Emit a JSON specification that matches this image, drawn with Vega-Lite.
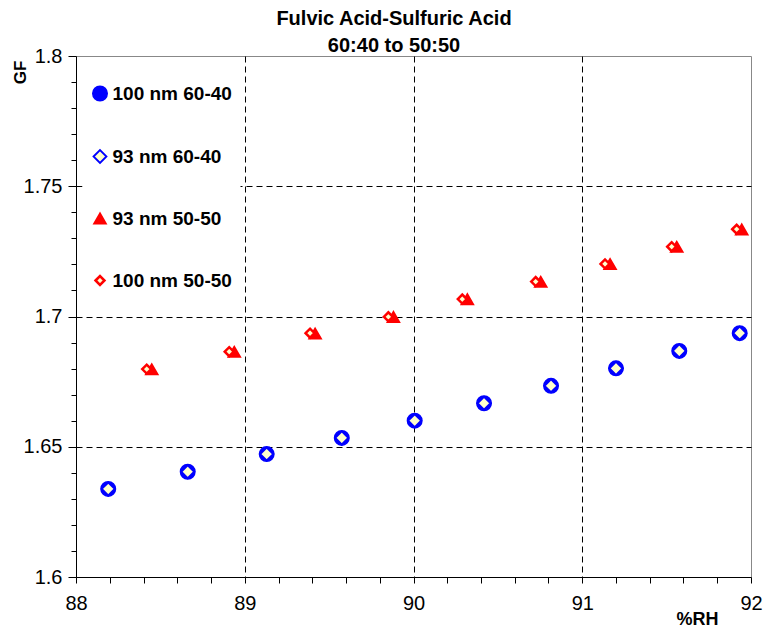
{
  "$schema": "https://vega.github.io/schema/vega-lite/v6.json",
  "width": 675,
  "height": 521,
  "autosize": {"type": "none"},
  "padding": {"left": 76, "top": 56, "right": 16, "bottom": 52},
  "background": "white",
  "config": {
    "font": "Liberation Sans",
    "view": {"stroke": "#888888", "strokeWidth": 1}
  },
  "title": {
    "text": ["Fulvic Acid-Sulfuric Acid", "60:40 to 50:50"],
    "font": "Liberation Sans",
    "fontSize": 20,
    "fontWeight": "bold",
    "color": "black",
    "lineHeight": 27,
    "anchor": "middle",
    "baseline": "bottom",
    "offset": -30,
    "dx": -19.5
  },
  "data": {
    "values": [
      {"rh": 88.191, "gf": 1.6338, "series": "100 nm 60-40"},
      {"rh": 88.662, "gf": 1.6404, "series": "100 nm 60-40"},
      {"rh": 89.130, "gf": 1.6472, "series": "100 nm 60-40"},
      {"rh": 89.575, "gf": 1.6534, "series": "100 nm 60-40"},
      {"rh": 90.007, "gf": 1.6600, "series": "100 nm 60-40"},
      {"rh": 90.418, "gf": 1.6667, "series": "100 nm 60-40"},
      {"rh": 90.815, "gf": 1.6734, "series": "100 nm 60-40"},
      {"rh": 91.200, "gf": 1.6801, "series": "100 nm 60-40"},
      {"rh": 91.575, "gf": 1.6868, "series": "100 nm 60-40"},
      {"rh": 91.933, "gf": 1.6936, "series": "100 nm 60-40"},
      {"rh": 88.191, "gf": 1.6338, "series": "93 nm 60-40"},
      {"rh": 88.662, "gf": 1.6404, "series": "93 nm 60-40"},
      {"rh": 89.130, "gf": 1.6472, "series": "93 nm 60-40"},
      {"rh": 89.575, "gf": 1.6534, "series": "93 nm 60-40"},
      {"rh": 90.007, "gf": 1.6600, "series": "93 nm 60-40"},
      {"rh": 90.418, "gf": 1.6667, "series": "93 nm 60-40"},
      {"rh": 90.815, "gf": 1.6734, "series": "93 nm 60-40"},
      {"rh": 91.200, "gf": 1.6801, "series": "93 nm 60-40"},
      {"rh": 91.575, "gf": 1.6868, "series": "93 nm 60-40"},
      {"rh": 91.933, "gf": 1.6936, "series": "93 nm 60-40"},
      {"rh": 88.449, "gf": 1.6797, "series": "93 nm 50-50"},
      {"rh": 88.938, "gf": 1.6864, "series": "93 nm 50-50"},
      {"rh": 89.417, "gf": 1.6934, "series": "93 nm 50-50"},
      {"rh": 89.881, "gf": 1.6998, "series": "93 nm 50-50"},
      {"rh": 90.319, "gf": 1.7066, "series": "93 nm 50-50"},
      {"rh": 90.754, "gf": 1.7133, "series": "93 nm 50-50"},
      {"rh": 91.165, "gf": 1.7201, "series": "93 nm 50-50"},
      {"rh": 91.560, "gf": 1.7267, "series": "93 nm 50-50"},
      {"rh": 91.945, "gf": 1.7334, "series": "93 nm 50-50"},
      {"rh": 88.419, "gf": 1.6798, "series": "100 nm 50-50"},
      {"rh": 88.908, "gf": 1.6865, "series": "100 nm 50-50"},
      {"rh": 89.387, "gf": 1.6936, "series": "100 nm 50-50"},
      {"rh": 89.851, "gf": 1.6999, "series": "100 nm 50-50"},
      {"rh": 90.289, "gf": 1.7067, "series": "100 nm 50-50"},
      {"rh": 90.724, "gf": 1.7134, "series": "100 nm 50-50"},
      {"rh": 91.135, "gf": 1.7202, "series": "100 nm 50-50"},
      {"rh": 91.530, "gf": 1.7268, "series": "100 nm 50-50"},
      {"rh": 91.915, "gf": 1.7335, "series": "100 nm 50-50"}
    ]
  },
  "mark": {"type": "point", "filled": true, "opacity": 1},
  "encoding": {
    "x": {
      "field": "rh",
      "type": "quantitative",
      "scale": {"domain": [88, 92], "nice": false, "zero": false},
      "axis": {
        "title": "%RH",
        "titleFont": "Liberation Sans",
        "titleFontSize": 18,
        "titleFontWeight": "bold",
        "titleColor": "black",
        "titleAlign": "center",
        "titleBaseline": "middle",
        "titleX": 621,
        "titleY": 42,
        "values": [88, 88.2, 88.4, 88.6, 88.8, 89, 89.2, 89.4, 89.6, 89.8, 90, 90.2, 90.4, 90.6, 90.8, 91, 91.2, 91.4, 91.6, 91.8, 92],
        "labelExpr": "datum.value == round(datum.value) ? '' + datum.value : ''",
        "labelFont": "Liberation Sans",
        "labelFontSize": 20,
        "labelColor": "black",
        "labelPadding": 10,
        "labelOverlap": false,
        "labelFlush": false,
        "labelBound": false,
        "domainColor": "black",
        "domainWidth": 1,
        "tickColor": "black",
        "tickSize": 6,
        "grid": true,
        "gridColor": "black",
        "gridDash": [6, 4],
        "gridWidth": 1,
        "gridOpacity": {"condition": {"test": "datum.value == round(datum.value) && datum.value > 88 && datum.value < 92", "value": 1}, "value": 0}
      }
    },
    "y": {
      "field": "gf",
      "type": "quantitative",
      "scale": {"domain": [1.6, 1.8], "nice": false, "zero": false},
      "axis": {
        "title": "GF",
        "titleFont": "Liberation Sans",
        "titleFontSize": 17,
        "titleFontWeight": "bold",
        "titleColor": "black",
        "titleAngle": 270,
        "titleAlign": "center",
        "titleBaseline": "middle",
        "titleX": -55.5,
        "titleY": 16,
        "values": [1.6, 1.61, 1.62, 1.63, 1.64, 1.65, 1.66, 1.67, 1.68, 1.69, 1.7, 1.71, 1.72, 1.73, 1.74, 1.75, 1.76, 1.77, 1.78, 1.79, 1.8],
        "labelExpr": "round(datum.value * 100) % 5 == 0 ? '' + datum.value : ''",
        "labelFont": "Liberation Sans",
        "labelFontSize": 20,
        "labelColor": "black",
        "labelPadding": 6,
        "labelOverlap": false,
        "labelFlush": false,
        "labelBound": false,
        "domainColor": "black",
        "domainWidth": 1,
        "tickColor": "black",
        "tickSize": {"condition": {"test": "round(datum.value * 100) % 5 == 0", "value": 8}, "value": 5},
        "grid": true,
        "gridColor": "black",
        "gridDash": [6, 4],
        "gridWidth": 1,
        "gridOpacity": {"condition": {"test": "round(datum.value * 100) % 5 == 0 && datum.value > 1.601 && datum.value < 1.799", "value": 1}, "value": 0}
      }
    },
    "shape": {
      "field": "series",
      "type": "nominal",
      "scale": {"domain": ["100 nm 60-40", "93 nm 60-40", "93 nm 50-50", "100 nm 50-50"], "range": ["circle", "diamond", "triangle-up", "diamond"]},
      "legend": {
        "title": null,
        "orient": "none",
        "legendX": 6.5,
        "legendY": 20,
        "padding": 8,
        "fillColor": "white",
        "strokeColor": null,
        "labelFont": "Liberation Sans",
        "labelFontSize": 19,
        "labelFontWeight": "bold",
        "labelColor": "black",
        "labelOffset": 3,
        "labelLimit": 300,
        "rowPadding": 42,
        "symbolOpacity": 1
      }
    },
    "fill": {
      "field": "series",
      "type": "nominal",
      "scale": {"domain": ["100 nm 60-40", "93 nm 60-40", "93 nm 50-50", "100 nm 50-50"], "range": ["#0000FF", "#FFFFCC", "#FF0000", "#FFFFCC"]},
      "legend": {"title": null}
    },
    "stroke": {
      "field": "series",
      "type": "nominal",
      "scale": {"domain": ["100 nm 60-40", "93 nm 60-40", "93 nm 50-50", "100 nm 50-50"], "range": ["#0000FF", "#0000FF", "#FF0000", "#FF0000"]},
      "legend": {"title": null}
    },
    "strokeWidth": {
      "field": "series",
      "type": "nominal",
      "scale": {"domain": ["100 nm 60-40", "93 nm 60-40", "93 nm 50-50", "100 nm 50-50"], "range": [1.5, 2.5, 1.5, 1.5]},
      "legend": {"title": null}
    },
    "size": {
      "field": "series",
      "type": "nominal",
      "scale": {"domain": ["100 nm 60-40", "93 nm 60-40", "93 nm 50-50", "100 nm 50-50"], "range": [210, 80, 170, 95]},
      "legend": {"title": null}
    }
  }
}
